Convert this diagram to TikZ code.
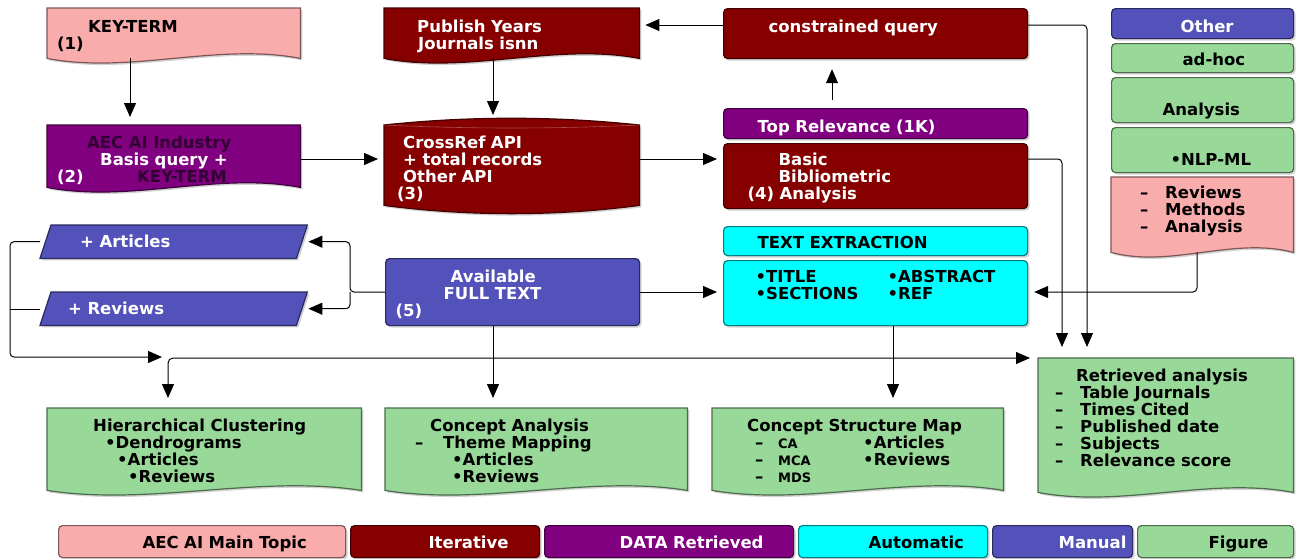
\documentclass[tikz,border=0pt]{standalone}
\usepackage{fontspec}
\setmainfont{DejaVu Sans}
\usepackage{tikz}
\usetikzlibrary{arrows.meta,backgrounds,calc,shadows}

\definecolor{pinkc}{RGB}{249,172,172}
\definecolor{redc}{RGB}{134,0,0}
\definecolor{purplec}{RGB}{128,0,128}
\definecolor{cyanc}{RGB}{0,255,255}
\definecolor{bluec}{RGB}{82,82,186}
\definecolor{greenc}{RGB}{152,216,152}
\definecolor{aecdark}{RGB}{50,0,50}

\newcommand{\offs}[1]{\hspace*{#1pt}}
\newcommand{\colw}[2]{\makebox[#1pt][l]{#2}}
\newcommand{\sm}[1]{{\fontsize{13}{17}\selectfont #1}}

\begin{document}
\begin{tikzpicture}[x=1pt,y=-1pt,
  every node/.style={font=\fontsize{16.5}{17}\selectfont\bfseries},
  txtbox/.style={anchor=north west,inner sep=0pt,align=left,text height=12.5pt},
  softshadow/.style={drop shadow={shadow xshift=2pt,shadow yshift=-2pt,opacity=0.35}},
  rbox/.style={txtbox,rounded corners=4pt,draw=#1!50!black,fill=#1,line width=1.2pt,softshadow},
  lgd/.style={rbox=#1,minimum height=32pt,text height=17pt,text depth=3pt},
  docfill/.style={draw=#1!50!black,fill=#1,line width=1.2pt,softshadow},
  arr/.style={-{Triangle[length=14pt,width=12pt]},line width=1pt,shorten >=6pt},
]
\useasboundingbox (0,0) rectangle (1299,558);

% first column
\node[txtbox,text width=253pt,minimum height=50pt,text depth=14.5pt] (key) at (47,8)
  {\offs{41}KEY-TERM\\\offs{10}(1)};
\node[txtbox,text=white,text width=253pt,minimum height=62pt,text depth=28.5pt] (aec) at (47,125)
  {\offs{40}\textcolor{aecdark}{AEC AI Industry}\\\offs{53}Basis query +\\\offs{10}\colw{80}{(2)}\textcolor{aecdark}{KEY-TERM}};
\node[txtbox,text=white,text width=267pt,minimum height=33pt,text height=16.5pt,text depth=4pt] (art) at (40,225)
  {\offs{40}+ Articles};
\node[txtbox,text=white,text width=267pt,minimum height=33pt,text height=16.5pt,text depth=4pt] (rev) at (40,292)
  {\offs{28}+ Reviews};

% second column
\node[txtbox,text=white,text width=255pt,minimum height=50pt,text depth=14.5pt] (pub) at (384,8)
  {\offs{33}Publish Years\\\offs{34}Journals isnn};
\node[txtbox,text=white,text width=255pt,minimum height=95pt,text depth=47.5pt] (cr) at (384,118)
  {\offs{19}CrossRef API\\\offs{19}+ total records\\\offs{19}Other API\\\offs{13}(3)};
\node[rbox=bluec,text=white,text width=254pt,minimum height=67pt,text depth=31.5pt] (avail) at (385,258)
  {\offs{65}Available\\\offs{58}FULL TEXT\\\offs{10}(5)};

% third column
\node[rbox=redc,text=white,text width=304pt,minimum height=50pt,text depth=14.5pt] (cq) at (723,8)
  {\offs{45}constrained query};
\node[rbox=purplec,text=white,text width=304pt,minimum height=30pt,text height=22pt,text depth=4pt] (top) at (723,108)
  {\offs{34}Top Relevance (1K)};
\node[rbox=redc,text=white,text width=304pt,minimum height=65pt,text depth=33.5pt] (basic) at (723,143)
  {\offs{55}Basic\\\offs{55}Bibliometric\\\offs{24}(4) Analysis};
\node[rbox=cyanc,text width=304pt,minimum height=29pt,text height=18pt,text depth=3pt] (tex) at (723,226)
  {\offs{34}TEXT EXTRACTION};
\node[rbox=cyanc,text width=304pt,minimum height=65pt,text depth=33pt] (tlist) at (723,260)
  {\offs{32}\colw{132}{•TITLE}•ABSTRACT\\\offs{32}\colw{132}{•SECTIONS}•REF};

% right column
\node[rbox=bluec,text=white,text width=182pt,minimum height=30pt,text height=21pt,text depth=3pt] (other) at (1111,8)
  {\offs{69}Other};
\node[rbox=greenc,text width=182pt,minimum height=29pt,text height=19pt,text depth=4pt] (adhoc) at (1111,43)
  {\offs{71}ad-hoc};
\node[rbox=greenc,text width=182pt,minimum height=45pt,text height=34pt,text depth=3pt] (anal) at (1111,77)
  {\offs{51}Analysis};
\node[rbox=greenc,text width=182pt,minimum height=45pt,text height=34pt,text depth=3pt] (nlp) at (1111,127)
  {\offs{59}•NLP-ML};
\node[txtbox,text width=182pt,minimum height=75pt,text depth=45.5pt] (rma) at (1111,177)
  {\offs{29}\colw{25}{–}Reviews\\\offs{29}\colw{25}{–}Methods\\\offs{29}\colw{25}{–}Analysis};

% figures
\node[txtbox,text width=314pt,minimum height=82pt,text depth=48.5pt] (hc) at (47,408)
  {\offs{46}Hierarchical Clustering\\\offs{58}•Dendrograms\\\offs{70}•Articles\\\offs{81}•Reviews};
\node[txtbox,text width=302pt,minimum height=82pt,text depth=48.5pt] (ca) at (385,408)
  {\offs{45}Concept Analysis\\\offs{30}\colw{28}{–}Theme Mapping\\\offs{67}•Articles\\\offs{67}•Reviews};
\node[txtbox,text width=291pt,minimum height=82pt,text depth=48.5pt] (csm) at (712,408)
  {\offs{35}Concept Structure Map\\\offs{43}\colw{23}{–}\colw{85}{\sm{CA}}•Articles\\\offs{43}\colw{23}{–}\colw{85}{\sm{MCA}}•Reviews\\\offs{43}\colw{23}{–}\sm{MDS}};
\node[txtbox,text width=255pt,minimum height=134pt,text depth=100.5pt] (ret) at (1038,358)
  {\offs{38}Retrieved analysis\\\offs{17}\colw{25}{–}Table Journals\\\offs{17}\colw{25}{–}Times Cited\\\offs{17}\colw{25}{–}Published date\\\offs{17}\colw{25}{–}Subjects\\\offs{17}\colw{25}{–}Relevance score};

% legend
\node[lgd=pinkc,text width=287pt] (lg1) at (58,525) {\offs{84}AEC AI Main Topic};
\node[lgd=redc,text=white,text width=189pt] (lg2) at (350,525) {\offs{78}Iterative};
\node[lgd=purplec,text=white,text width=249pt] (lg3) at (544,525) {\offs{75}DATA Retrieved};
\node[lgd=cyanc,text width=189pt] (lg4) at (798,525) {\offs{70}Automatic};
\node[lgd=bluec,text=white,text width=140pt] (lg5) at (992,525) {\offs{66}Manual};
\node[lgd=greenc,text width=156pt] (lg6) at (1137,525) {\offs{71}Figure};

% shapes behind the text
\begin{scope}[on background layer]
\foreach \n/\cl in {key/pinkc,aec/purplec,pub/redc,rma/pinkc,hc/greenc,ca/greenc,csm/greenc,ret/greenc}
  \draw[docfill=\cl] (\n.north west) -- (\n.north east) -- (\n.south east)
    .. controls ($(\n.south east)!0.33!(\n.south west)+(0,-16)$) and ($(\n.south east)!0.67!(\n.south west)+(0,16)$) .. (\n.south west) -- cycle;
\foreach \n in {art,rev}
  \draw[docfill=bluec] ($(\n.north west)+(11,0)$) -- (\n.north east) -- ($(\n.south east)+(-11,0)$) -- (\n.south west) -- cycle;
\draw[docfill=redc] ($(cr.north west)+(0,7)$) -- ($(cr.south west)+(0,-8)$)
  .. controls ($(cr.south west)+(85,3)$) and ($(cr.south east)+(-85,3)$) .. ($(cr.south east)+(0,-8)$)
  -- ($(cr.north east)+(0,7)$)
  .. controls ($(cr.north east)+(-85,-2)$) and ($(cr.north west)+(85,-2)$) .. ($(cr.north west)+(0,7)$) -- cycle;
\draw[redc!70!white,line width=0.6pt] ($(cr.north west)+(0,7)$)
  .. controls ($(cr.north west)+(85,11)$) and ($(cr.north east)+(-85,11)$) .. ($(cr.north east)+(0,7)$);
\end{scope}

% connectors
\draw[arr,shorten >=8pt] (130,0 |- key.south) -- (130,0 |- aec.north);
\draw[arr] (aec.east |- 0,159) -- (cr.west |- 0,159);
\draw[arr,shorten >=3pt] (493,0 |- pub.south) -- (493,0 |- cr.north);
\draw[arr] (cr.east |- 0,159) -- (basic.west |- 0,159);
\draw[arr] (cq.west |- 0,25) -- (pub.east |- 0,25);
\draw[arr,shorten <=8pt,shorten >=10pt] (832,0 |- top.north) -- (832,0 |- cq.south);
\draw[arr] (avail.east |- 0,292) -- (tlist.west |- 0,292);
\coordinate (fork) at (350,292);
\draw[arr,rounded corners=4pt,shorten >=1pt] (avail.west |- fork) -- (fork) |- (art.east);
\draw[arr,rounded corners=4pt,shorten >=1pt] (fork) |- (rev.east);
\coordinate (lmerge) at (162,357);
\draw[arr,rounded corners=4pt,shorten >=0pt] (art.west) -- (10,0 |- art.west) |- (lmerge);
\draw (rev.west) -- (10,0 |- rev.west);
\draw[{Triangle[length=14pt,width=12pt]}-{Triangle[length=14pt,width=12pt]},line width=1pt,rounded corners=5pt,shorten <=8pt,shorten >=10pt]
  (ret.north west) -| (168,0 |- hc.north);
\draw[arr,shorten >=10pt] (493,0 |- avail.south) -- (493,0 |- ca.north);
\draw[arr,shorten >=10pt] (893,0 |- tlist.south) -- (893,0 |- csm.north);
\draw[arr,rounded corners=4pt,shorten >=11pt] (basic.east |- 0,159) -| (1062,0 |- ret.north);
\draw[arr,rounded corners=4pt,shorten >=11pt] (cq.east |- 0,25) -| (1087,0 |- ret.north);
\draw[arr,rounded corners=4pt] (1197,0 |- rma.south) |- (tlist.east |- 0,292);
\end{tikzpicture}
\end{document}
